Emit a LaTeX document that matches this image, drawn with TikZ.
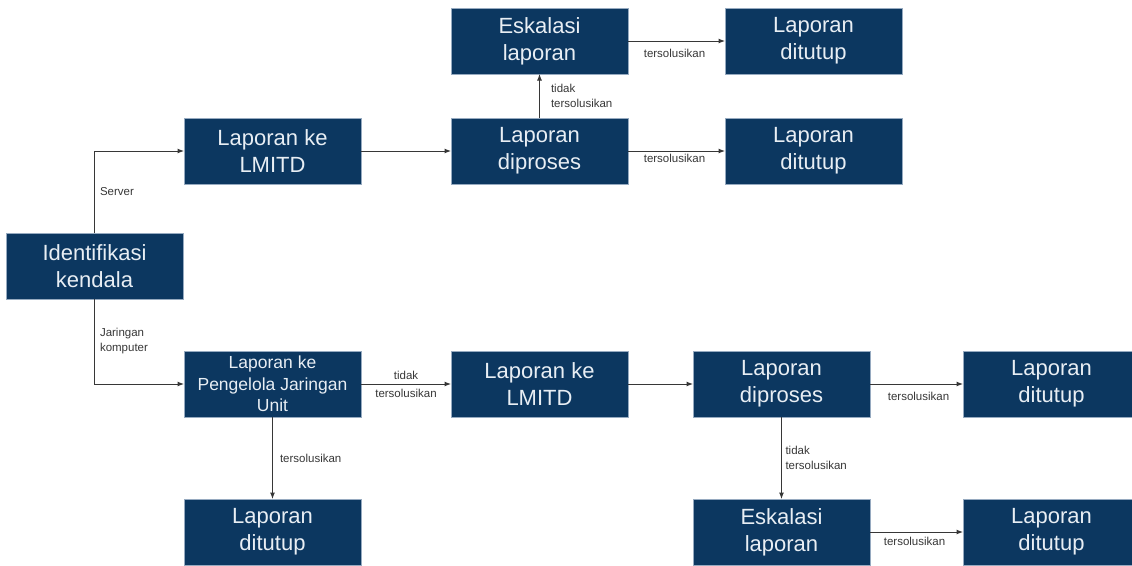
\documentclass[tikz,border=0pt]{standalone}
\usepackage{fontspec}
\setmainfont{Liberation Sans}
\usetikzlibrary{positioning,arrows.meta}
\definecolor{boxblue}{RGB}{12,55,96}
\definecolor{boxedge}{RGB}{150,170,192}
\definecolor{boxtext}{RGB}{232,238,244}
\definecolor{linegray}{RGB}{55,55,55}
\tikzset{
  stepbox/.style={draw=boxedge, line width=0.8pt, fill=boxblue, text=boxtext,
    minimum width=177pt, minimum height=66pt, inner sep=0pt, outer sep=0pt,
    align=center, font=\fontsize{22}{27}\selectfont},
  smallbox/.style={stepbox, font=\fontsize{17.5}{21.5}\selectfont},
  lbl/.style={text=linegray, inner sep=1pt, align=left,
    font=\fontsize{11.5}{15}\selectfont}
}
\begin{document}
\begin{tikzpicture}[-{Latex[length=6.5pt,width=5pt]}, draw=linegray, line width=1pt]
            \useasboundingbox (0,0) rectangle (1132pt,-565pt);
            \clip (0,0) rectangle (1132pt,-565pt);

            \node[stepbox] (1) at (94.5pt,-266pt) {Identifikasi\\kendala};
            \node[stepbox] (2) [above right=49pt and 1pt of 1] {Laporan ke\\LMITD};
            \node[stepbox] (3) [right=90pt of 2] {Laporan\\diproses};
            \node[stepbox] (4) [above=44pt of 3] {Eskalasi\\laporan};
            \node[stepbox] (5) [right=97pt of 4] {Laporan\\ditutup};
            \node[stepbox] (6) [right=97pt of 3] {Laporan\\ditutup};
            \node[smallbox] (7) [below right=52pt and 1pt of 1] {Laporan ke\\Pengelola Jaringan\\Unit};
            \node[stepbox] (8) [right=90pt of 7] {Laporan ke\\LMITD};
            \node[stepbox] (9) [right=65pt of 8] {Laporan\\diproses};
            \node[stepbox] (10) [right=93pt of 9] {Laporan\\ditutup};
            \node[stepbox] (11) [below=82pt of 7] {Laporan\\ditutup};
            \node[stepbox] (12) [below=82pt of 9] {Eskalasi\\laporan};
            \node[stepbox] (13) [right=93pt of 12] {Laporan\\ditutup};

            \draw (1.north) |- node[lbl, pos=0.25, right=4pt] {Server} (2.west);
            \draw (1.south) |- node[lbl, pos=0.25, right=4pt] {Jaringan\\komputer} (7.west);

            \path
            (2) edge node {} (3)
            (3) edge node[lbl, right=10pt] {tidak\\tersolusikan} (4)
            (3) edge node[lbl, below=1.5pt, xshift=-2pt] {tersolusikan} (6)
            (4) edge node[lbl, below=7pt, xshift=-2pt] {tersolusikan} (5)
            (7) edge node[lbl, align=center] {tidak\\[3pt]tersolusikan} (8)
            (7) edge node[lbl, right=6pt] {tersolusikan} (11)
            (8) edge node {} (9)
            (9) edge node[lbl, below=7pt, xshift=2pt] {tersolusikan} (10)
            (9) edge node[lbl, right=2.5pt] {tidak\\tersolusikan} (12)
            (12) edge node[lbl, below=4pt, xshift=-2pt] {tersolusikan} (13);

        \end{tikzpicture}
\end{document}
